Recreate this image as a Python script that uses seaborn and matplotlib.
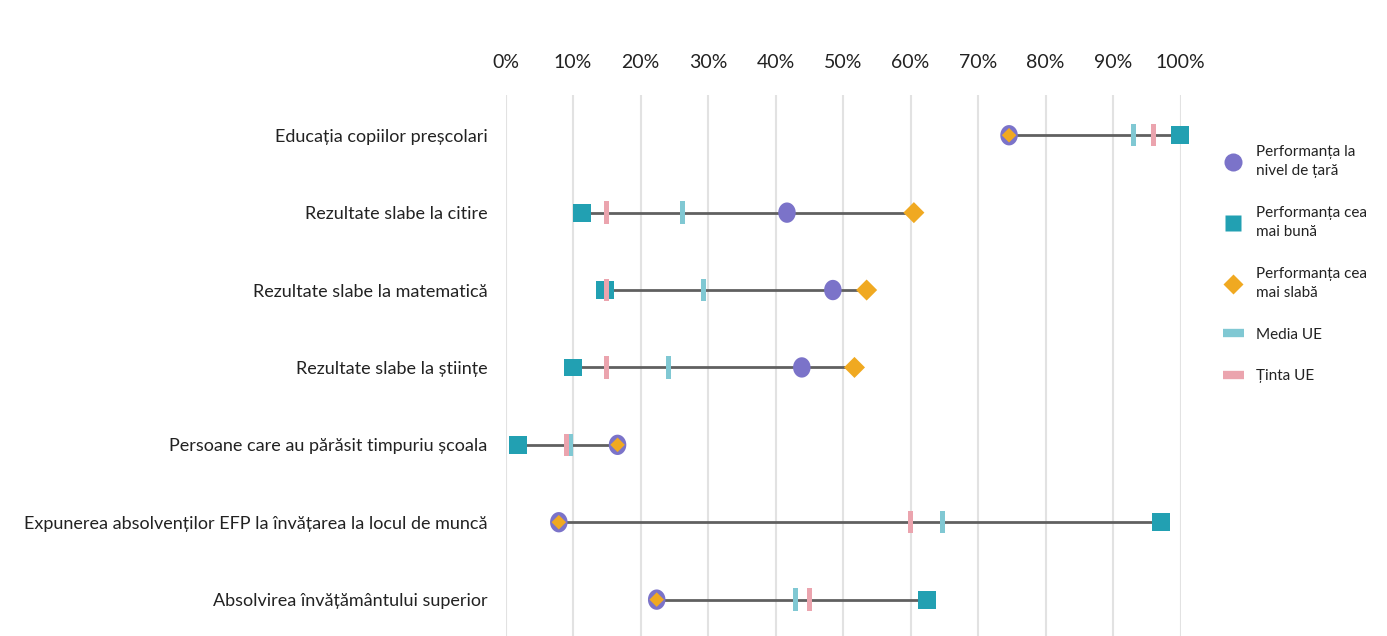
import numpy as np
import pandas as pd
import matplotlib
matplotlib.use("Agg")
import matplotlib.pyplot as plt
from matplotlib.lines import Line2D
import seaborn as sns

# values (%)
categories = [
    "Educația copiilor preșcolari",
    "Rezultate slabe la citire",
    "Rezultate slabe la matematică",
    "Rezultate slabe la științe",
    "Persoane care au părăsit timpuriu școala",
    "Expunerea absolvenților EFP la învățarea la locul de muncă",
    "Absolvirea învățământului superior",
]
country = [74.6, 41.7, 48.5, 43.9, 16.6, 7.9, 22.4]
best = [99.9, 11.3, 14.8, 10.0, 1.9, 97.1, 62.5]
worst = [74.6, 60.5, 53.5, 51.7, 16.6, 7.9, 22.4]
eu_avg = [93.1, 26.2, 29.4, 24.2, 9.6, 64.7, 43.0]
eu_target = [96.0, 15.0, 15.0, 15.0, 9.0, 60.0, 45.0]
xticks = [0, 10, 20, 30, 40, 50, 60, 70, 80, 90, 100]

legend_labels = ["Performanța la\nnivel de țară", "Performanța cea\nmai bună",
                 "Performanța cea\nmai slabă", "Media UE", "Ținta UE"]

c_country = "#7b73c9"
c_best = "#22a0b2"
c_worst = "#f0a921"
c_avg = "#80c8d3"
c_target = "#eba4ae"

df = pd.DataFrame({"cat": categories, "country": country, "best": best,
                   "worst": worst, "avg": eu_avg, "target": eu_target})
df["y"] = np.arange(len(df))
df["lo"] = df[["country", "best", "worst", "avg", "target"]].min(axis=1)
df["hi"] = df[["country", "best", "worst", "avg", "target"]].max(axis=1)
same = df[df["worst"] == df["country"]]
diff = df[df["worst"] != df["country"]]

sns.set_theme(style="white")
plt.rcParams["font.family"] = ["Lato", "DejaVu Sans"]

fig = plt.figure(figsize=(13.87, 6.36), dpi=100)
ax = fig.add_axes([505.5 / 1387, 0, 675 / 1387, 541 / 636])

t = np.linspace(0, 2 * np.pi, 40)
ellipse = np.column_stack([0.43 * np.cos(t), 0.5 * np.sin(t)])
bar = [(-0.11, -0.5), (0.11, -0.5), (0.11, 0.5), (-0.11, 0.5), (-0.11, -0.5)]

ax.hlines(df["y"], df["lo"], df["hi"], color="#606060", lw=2, zorder=2)
sns.scatterplot(data=df, x="best", y="y", marker="s", s=165, color=c_best,
                edgecolor="none", ax=ax, zorder=3, clip_on=False)
sns.scatterplot(data=df, x="avg", y="y", marker=bar, s=260, color=c_avg,
                edgecolor="none", ax=ax, zorder=4, clip_on=False)
sns.scatterplot(data=df, x="target", y="y", marker=bar, s=260, color=c_target,
                edgecolor="none", ax=ax, zorder=4, clip_on=False)
sns.scatterplot(data=df, x="country", y="y", marker=ellipse, s=215, color=c_country,
                edgecolor="none", ax=ax, zorder=5, clip_on=False)
sns.scatterplot(data=diff, x="worst", y="y", marker="D", s=115, color=c_worst,
                edgecolor="none", ax=ax, zorder=6, clip_on=False)
sns.scatterplot(data=same, x="worst", y="y", marker="D", s=55, color=c_worst,
                edgecolor="none", ax=ax, zorder=6, clip_on=False)

ax.set_xlim(0, 100)
ax.set_ylim(6.47, -0.52)
ax.set_xticks(xticks)
ax.set_xticklabels([f"{v}%" for v in xticks])
ax.xaxis.tick_top()
ax.tick_params(axis="x", length=0, pad=17, labelsize=14, colors="#222222")
ax.set_yticks(df["y"])
ax.set_yticklabels(categories)
ax.tick_params(axis="y", length=0, pad=13, labelsize=13, colors="#222222")
ax.set_xlabel("")
ax.set_ylabel("")
ax.grid(axis="x", color="#e2e2e2", lw=1.5, zorder=0)
ax.set_axisbelow(True)
for s in ax.spines.values():
    s.set_visible(False)
if ax.get_legend():
    ax.get_legend().remove()

handles = [
    Line2D([], [], ls="none", marker="o", ms=13, color=c_country, mec="none"),
    Line2D([], [], ls="none", marker="s", ms=12, color=c_best, mec="none"),
    Line2D([], [], ls="none", marker="D", ms=10, color=c_worst, mec="none"),
    Line2D([], [], lw=6, color=c_avg, solid_capstyle="butt"),
    Line2D([], [], lw=6, color=c_target, solid_capstyle="butt"),
]
leg = fig.legend(handles, legend_labels, loc="upper left", bbox_to_anchor=(1209 / 1387, 1 - 131 / 636),
                 frameon=False, fontsize=11, handlelength=1.4, handletextpad=0.8,
                 labelspacing=1.8, labelcolor="#222222")
for txt in leg.get_texts():
    txt.set_linespacing(1.5)

fig.savefig("out.png", dpi=100)
